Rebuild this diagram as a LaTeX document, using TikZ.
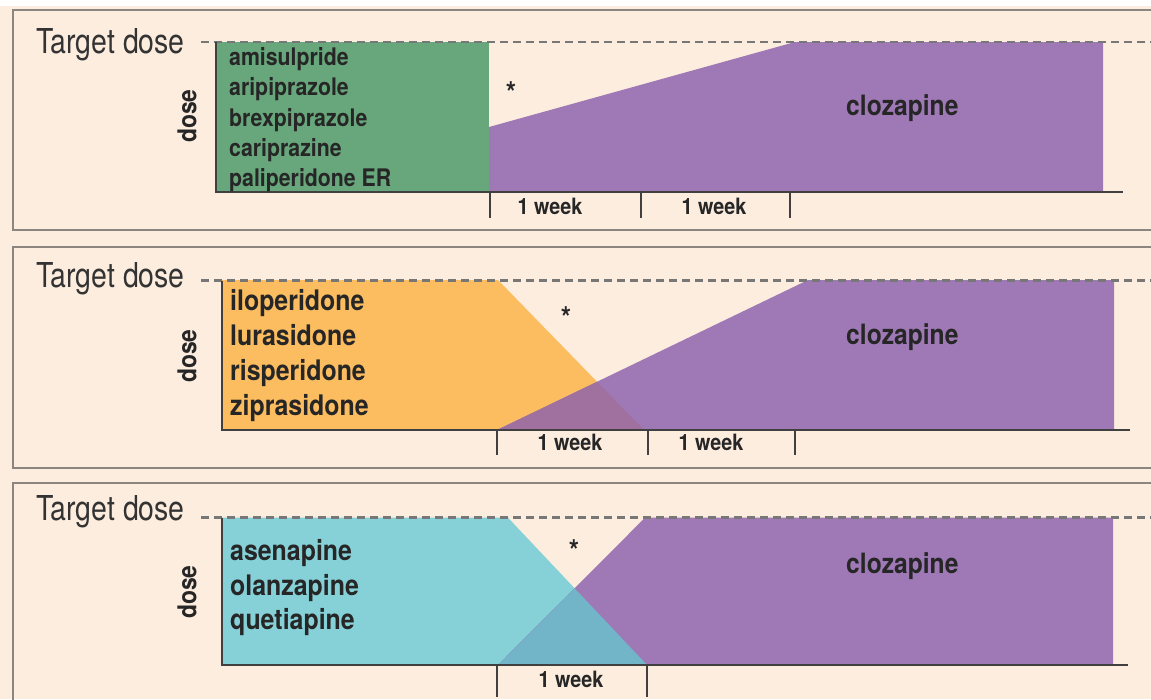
\documentclass[tikz,border=0pt]{standalone}
\usepackage{fontspec}
\setmainfont{TeX Gyre Heros}[FakeStretch=0.88]
\newfontfamily\tgtfont{TeX Gyre Heros}[FakeStretch=0.83]
\usetikzlibrary{calc}
\definecolor{cream}{HTML}{FDEDDF}
\definecolor{gcol}{HTML}{68A77C}
\definecolor{pcol}{HTML}{9E79B6}
\definecolor{ocol}{HTML}{FBBD60}
\definecolor{ccol}{HTML}{86D0D8}
\definecolor{opcol}{HTML}{A0709E}
\definecolor{cpcol}{HTML}{72B5C8}
\definecolor{dashcol}{HTML}{777777}
\definecolor{axiscol}{HTML}{404040}
\definecolor{bordcol}{HTML}{8C8580}
\definecolor{txt}{HTML}{262626}
\definecolor{tgtcol}{HTML}{333333}
\tikzset{
  panel/.style={draw=bordcol,line width=1.6pt},
  targetline/.style={draw=dashcol,line width=2.8pt,dash pattern=on 8pt off 5pt},
  axisline/.style={draw=axiscol,line width=2pt},
  tgt/.style={font=\tgtfont\fontsize{34.3}{36}\selectfont,text=tgtcol,inner sep=0pt,anchor=base west},
  drugA/.style={font=\bfseries\fontsize{24.2}{26}\selectfont,text=txt,inner sep=0pt,anchor=base west},
  drugB/.style={font=\bfseries\fontsize{28.3}{30}\selectfont,text=txt,inner sep=0pt,anchor=base west},
  cloz/.style={font=\bfseries\fontsize{28}{30}\selectfont,text=txt,inner sep=0pt,anchor=base west},
  week/.style={font=\bfseries\fontsize{22.5}{24}\selectfont,text=txt,inner sep=0pt,anchor=base},
  doselbl/.style={font=\bfseries\fontsize{26}{28}\selectfont,text=txt,inner sep=0pt,rotate=90},
  star/.style={font=\bfseries\fontsize{30}{32}\selectfont,text=txt,inner sep=0pt,anchor=base}
}
\begin{document}
\begin{tikzpicture}[x=1pt,y=-1pt]
\useasboundingbox (0,0) rectangle (1151,699);
\clip (0,0) rectangle (1151,699);
\fill[white] (0,0) rectangle (1151,6);
\fill[cream] (0,6) rectangle (1151,699);
% panel frames
\draw[panel] (13,10) rectangle (1175,230);
\draw[panel] (13,247) rectangle (1175,468);
\draw[panel] (13,483) rectangle (1175,730);

% ---------- Panel 1 ----------
\fill[gcol] (216,42) rectangle (489,192);
\fill[pcol] (489,192) -- (489,127) -- (795,42) -- (1103,42) -- (1103,192) -- cycle;
\draw[targetline] (201,42) -- (1151,42);
\draw[axisline] (216,42) -- (216,192) -- (1123,192);
\draw[axisline] (490,192) -- (490,218);
\draw[axisline] (641,192) -- (641,218);
\draw[axisline] (790,192) -- (790,218);
\node[tgt] (t1) at (36,53) {Target dose};
\node[doselbl] (d1) at (187,116) {dose};
\node[drugA] (a1) at (229,65.6) {amisulpride};
\node[drugA] (a2) at (229,95.9) {aripiprazole};
\node[drugA] (a3) at (229,126.2) {brexpiprazole};
\node[drugA] (a4) at (229,156.5) {cariprazine};
\node[drugA] (a5) at (229,186.8) {paliperidone ER};
\node[star] (s1) at (511,103) {*};
\node[cloz] (c1) at (846,115) {clozapine};
\node[week] (w11) at (550,214) {1 week};
\node[week] (w12) at (714,214) {1 week};

% ---------- Panel 2 ----------
\coordinate (o1) at (498,280);
\coordinate (o2) at (644,430);
\coordinate (p1) at (497,430);
\coordinate (p2) at (808,280);
\coordinate (x2) at (intersection of o1--o2 and p1--p2);
\fill[ocol] (222,280) -- (o1) -- (o2) -- (222,430) -- cycle;
\fill[pcol] (p1) -- (p2) -- (1114,280) -- (1114,430) -- cycle;
\fill[opcol] (p1) -- (x2) -- (o2) -- cycle;
\draw[targetline] (201,280.7) -- (1151,280.7);
\draw[axisline] (222,281) -- (222,430) -- (1130,430);
\draw[axisline] (497,430) -- (497,455);
\draw[axisline] (648,430) -- (648,455);
\draw[axisline] (795,430) -- (795,455);
\node[tgt] (t2) at (36,287.5) {Target dose};
\node[doselbl] (d2) at (187,356) {dose};
\node[drugB] (b1) at (230,310.7) {iloperidone};
\node[drugB] (b2) at (230,345.5) {lurasidone};
\node[drugB] (b3) at (230,380.3) {risperidone};
\node[drugB] (b4) at (230,415.1) {ziprasidone};
\node[star] (s2) at (566,328) {*};
\node[cloz] (c2) at (846,344) {clozapine};
\node[week] (w21) at (570,450) {1 week};
\node[week] (w22) at (711,450) {1 week};

% ---------- Panel 3 ----------
\coordinate (q1) at (508,517.7);
\coordinate (q2) at (647,665);
\coordinate (r1) at (498,665);
\coordinate (r2) at (645,517.7);
\coordinate (x3) at (intersection of q1--q2 and r1--r2);
\fill[ccol] (222,517.7) -- (q1) -- (q2) -- (222,665) -- cycle;
\fill[pcol] (r1) -- (r2) -- (1113,517.7) -- (1113,665) -- cycle;
\fill[cpcol] (r1) -- (x3) -- (q2) -- cycle;
\draw[targetline] (201,517.7) -- (1151,517.7);
\draw[axisline] (222,518) -- (222,665) -- (1128,665);
\draw[axisline] (497,665) -- (497,697);
\draw[axisline] (647,665) -- (647,697);
\node[tgt] (t3) at (36,520.5) {Target dose};
\node[doselbl] (d3) at (187,592) {dose};
\node[drugB] (e1) at (230,560.7) {asenapine};
\node[drugB] (e2) at (230,595) {olanzapine};
\node[drugB] (e3) at (230,629.3) {quetiapine};
\node[star] (s3) at (574,561) {*};
\node[cloz] (c3) at (846,573) {clozapine};
\node[week] (w31) at (571,687) {1 week};
\end{tikzpicture}
\end{document}
